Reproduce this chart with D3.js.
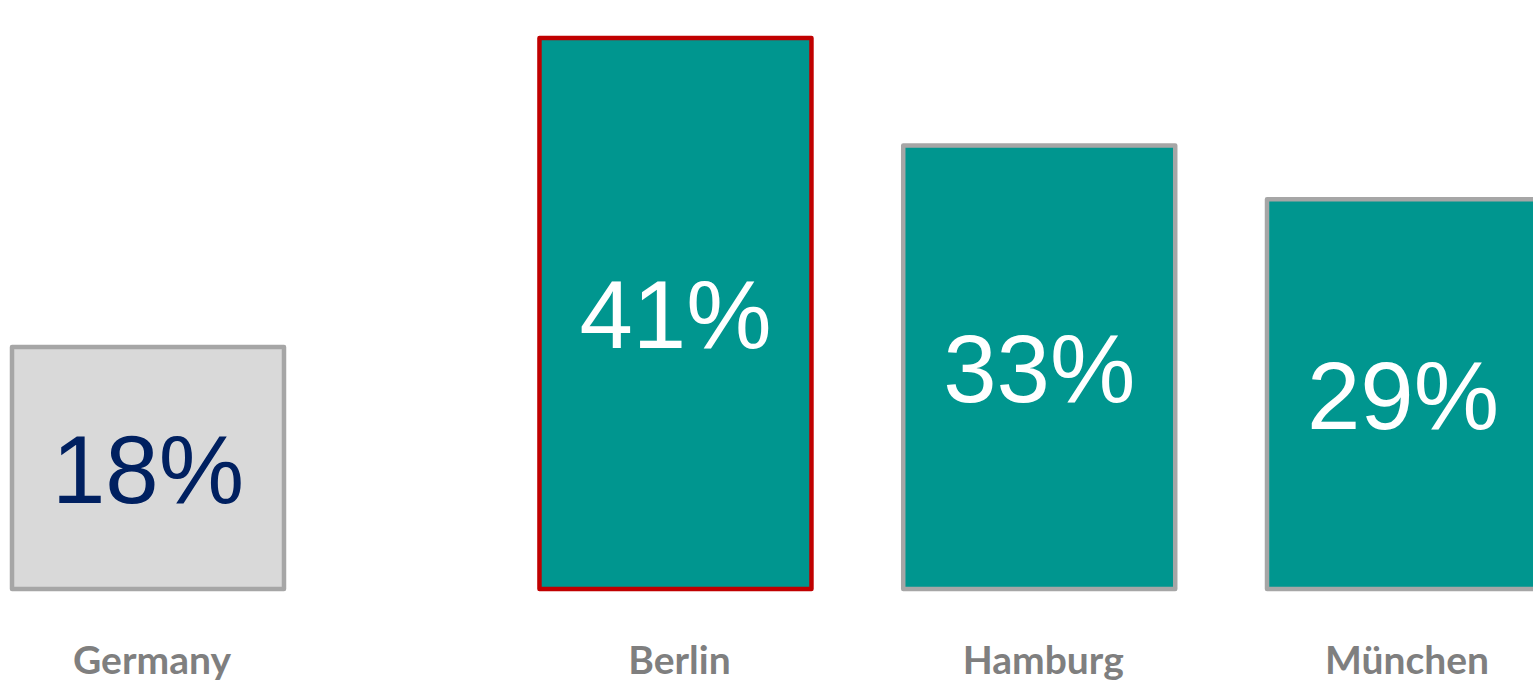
<!DOCTYPE html>
<html>
<head>
<meta charset="utf-8">
<script src="https://cdn.jsdelivr.net/npm/d3@7"></script>
<style>
  html, body { margin: 0; padding: 0; background: #ffffff; }
  svg { display: block; }
</style>
</head>
<body>
<svg id="chart" width="1533" height="682"></svg>
<script>
// Share of respondents, national benchmark vs. three cities
const categories = ["Germany", "Berlin", "Hamburg", "München"];
const values = [18, 41, 33, 29];
const valueLabels = ["18%", "41%", "33%", "29%"];

const svg = d3.select("#chart");
const baseline = 589;

// Germany stands apart from the city group, so the slots carry an extra gap
const groupGap = 0.45;
const slot = i => i + (i > 0 ? groupGap : 0);
const x = d3.scaleLinear().domain([0, slot(3)]).range([148, 1403]);
const barWidth = 272;

const y = d3.scaleLinear().domain([0, 43]).range([baseline, baseline - 578]);

const fills = ["#d9d9d9", "#00968f", "#00968f", "#00968f"];
const strokes = ["#a6a6a6", "#c00000", "#a6a6a6", "#a6a6a6"];
const textColors = ["#002060", "#ffffff", "#ffffff", "#ffffff"];

const data = categories.map((c, i) => ({ c, v: values[i], label: valueLabels[i], i }));

svg.selectAll("rect.bar")
  .data(data)
  .join("rect")
  .attr("class", "bar")
  .attr("x", d => x(slot(d.i)) - barWidth / 2)
  .attr("y", d => y(d.v))
  .attr("width", barWidth)
  .attr("height", d => y(0) - y(d.v))
  .attr("fill", d => fills[d.i])
  .attr("stroke", d => strokes[d.i])
  .attr("stroke-width", 4.5)
  .attr("stroke-linejoin", "round");

svg.selectAll("text.value")
  .data(data)
  .join("text")
  .attr("class", "value")
  .attr("x", d => x(slot(d.i)))
  .attr("y", d => (y(d.v) + y(0)) / 2)
  .attr("dy", "0.36em")
  .attr("text-anchor", "middle")
  .attr("font-family", "'Liberation Sans', Arial, sans-serif")
  .attr("font-size", 96)
  .attr("fill", d => textColors[d.i])
  .text(d => d.label);

svg.selectAll("text.category")
  .data(data)
  .join("text")
  .attr("class", "category")
  .attr("x", d => x(slot(d.i)) + 4)
  .attr("y", 674)
  .attr("text-anchor", "middle")
  .attr("font-family", "Lato, 'Open Sans', sans-serif")
  .attr("font-weight", "bold")
  .attr("font-size", 39)
  .attr("fill", "#7f7f7f")
  .text(d => d.c);
</script>
</body>
</html>
